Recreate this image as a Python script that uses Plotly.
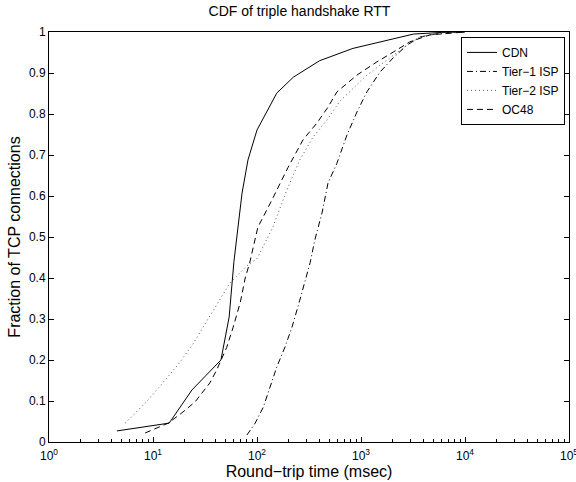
import plotly.graph_objects as go

# CDF data (RTT in msec, cumulative fraction)
cdn_x = [4.5, 14.3, 23.7, 45, 54, 60, 71.8, 81.9, 100, 155, 224, 400, 837, 2230, 3200, 6000, 10000]
cdn_y = [0.027, 0.046, 0.127, 0.20, 0.305, 0.44, 0.607, 0.688, 0.761, 0.851, 0.89, 0.93, 0.96, 0.985, 0.995, 0.999, 1.0]

tier1_x = [80, 96, 115, 133, 155, 186, 217, 258, 290, 324, 360, 422, 482, 587, 733, 915, 1140, 1520, 2040, 2770, 3700, 5750, 10000]
tier1_y = [0.017, 0.046, 0.085, 0.134, 0.183, 0.232, 0.28, 0.346, 0.395, 0.437, 0.493, 0.559, 0.632, 0.68, 0.749, 0.805, 0.854, 0.902, 0.937, 0.968, 0.988, 0.997, 1.0]

tier2_x = [5.4, 8.8, 13.6, 18.2, 24.3, 29.5, 40, 55, 80, 100, 142, 194, 258, 346, 470, 620, 1140, 1900, 2770, 3700, 6000, 10000]
tier2_y = [0.046, 0.10, 0.156, 0.195, 0.24, 0.275, 0.33, 0.388, 0.43, 0.447, 0.524, 0.615, 0.688, 0.744, 0.785, 0.83, 0.895, 0.937, 0.968, 0.988, 0.998, 1.0]

oc48_x = [8.4, 14, 19.4, 25.4, 35.2, 41, 51, 59, 69, 77, 85, 102, 139, 199, 277, 377, 482, 587, 915, 1420, 2040, 2950, 4600, 10000]
oc48_y = [0.022, 0.046, 0.073, 0.098, 0.144, 0.176, 0.23, 0.28, 0.34, 0.40, 0.437, 0.524, 0.59, 0.67, 0.737, 0.778, 0.817, 0.854, 0.895, 0.927, 0.951, 0.976, 0.993, 1.0]

x_tickvals = [1, 10, 100, 1000, 10000, 100000]
x_ticktext = ["10<sup>0</sup>", "10<sup>1</sup>", "10<sup>2</sup>", "10<sup>3</sup>", "10<sup>4</sup>", "10<sup>5</sup>"]
y_tickvals = [0, 0.1, 0.2, 0.3, 0.4, 0.5, 0.6, 0.7, 0.8, 0.9, 1]
y_ticktext = ["0", "0.1", "0.2", "0.3", "0.4", "0.5", "0.6", "0.7", "0.8", "0.9", "1"]

minor_vals = [m * 10 ** d for d in range(0, 5) for m in range(2, 10)]

FONT = "Liberation Sans, Arial, Helvetica, sans-serif"

fig = go.Figure()
fig.add_trace(go.Scatter(x=cdn_x, y=cdn_y, mode="lines", name="CDN",
                         line=dict(color="black", width=1, dash="solid")))
fig.add_trace(go.Scatter(x=tier1_x, y=tier1_y, mode="lines", name="Tier\u22121 ISP",
                         line=dict(color="black", width=1, dash="6px,3px,1px,3px")))
fig.add_trace(go.Scatter(x=tier2_x, y=tier2_y, mode="lines", name="Tier\u22122 ISP",
                         line=dict(color="#555555", width=1, dash="1px,3px")))
fig.add_trace(go.Scatter(x=oc48_x, y=oc48_y, mode="lines", name="OC48",
                         line=dict(color="black", width=1, dash="6px,4px")))

minor_style = dict(tickmode="array", tickvals=minor_vals, ticks="inside",
                   ticklen=3, tickcolor="black", showgrid=False)

fig.update_layout(
    width=576, height=482,
    margin=dict(l=49, r=7, t=32, b=40),
    paper_bgcolor="white", plot_bgcolor="white",
    font=dict(family=FONT, color="black", size=12),
    title=dict(text="CDF of triple handshake RTT", x=0.52, xanchor="center",
               y=0.978, yanchor="middle", font=dict(size=14, family=FONT)),
    showlegend=True,
    legend=dict(x=0.9923, xanchor="right", y=0.988, yanchor="top",
                bordercolor="black", borderwidth=1, bgcolor="white",
                font=dict(size=12, family=FONT), tracegroupgap=0,
                itemwidth=30),
    xaxis=dict(
        type="log", range=[0, 5], automargin=False,
        tickmode="array", tickvals=x_tickvals, ticktext=x_ticktext,
        ticks="inside", ticklen=5, tickcolor="black", tickwidth=1,
        showline=True, linecolor="black", linewidth=1, mirror=True,
        showgrid=False, zeroline=False, ticklabeloverflow="allow",
        ticklabelstandoff=3,
        tickfont=dict(size=12, family=FONT),
        minor=minor_style,
        title=dict(text="Round\u2212trip time (msec)", font=dict(size=16, family=FONT), standoff=2),
    ),
    xaxis2=dict(type="log", range=[0, 5], overlaying="x", side="top", anchor="y",
                automargin=False,
                showticklabels=False, ticks="inside", ticklen=5,
                tickcolor="black", tickmode="array", tickvals=x_tickvals,
                showgrid=False, zeroline=False, showline=False,
                minor=minor_style),
    yaxis=dict(
        range=[0, 1], automargin=False,
        tickmode="array", tickvals=y_tickvals, ticktext=y_ticktext,
        ticks="inside", ticklen=5, tickcolor="black", tickwidth=1,
        showline=True, linecolor="black", linewidth=1, mirror="ticks",
        showgrid=False, zeroline=False,
        tickfont=dict(size=12, family=FONT),
        title=dict(text="Fraction of TCP connections", font=dict(size=16, family=FONT), standoff=4),
    ),
)

fig.write_html("out.html")
